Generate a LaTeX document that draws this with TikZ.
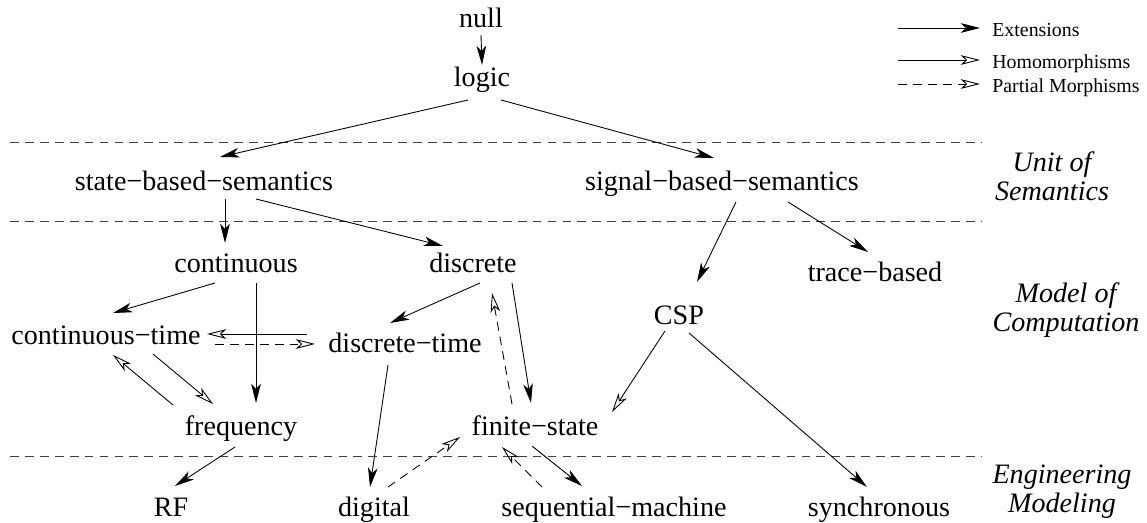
\documentclass[tikz,border=0pt]{standalone}
\usepackage{fontspec}
\setmainfont{Liberation Serif}
\usetikzlibrary{arrows.meta}

\begin{document}
\begin{tikzpicture}[x=0.02cm, y=-0.02cm, % one unit = one pixel, y runs down
	lbl/.style={font=\fontsize{16}{16.4}\selectfont, anchor=base, inner sep=0pt},
	side/.style={font=\fontsize{16}{16.4}\selectfont\itshape, align=center, inner sep=0pt},
	key/.style={font=\fontsize{11.3}{13}\selectfont, anchor=base west, inner sep=0pt},
	ext/.style={line width=0.5pt, -{Stealth[length=11pt, width=5.5pt, inset=3pt]}},
	hom/.style={line width=0.5pt, -{Stealth[open, length=11pt, width=5.5pt, inset=3pt]}},
	part/.style={hom, dash pattern=on 5pt off 3.5pt},
	sep/.style={line width=0.5pt, black!75, dash pattern=on 5pt off 3.5pt}]
	\useasboundingbox (0,0) rectangle (1147,523);

	% Layer separators
	\foreach \y in {142,221,456}
	\draw[sep] (10,\y) -- (982,\y);

	% Layer names
	\node[side] (unit) at (1052,176) {Unit of\\Semantics};
	\node[side] (moc) at (1066,310) {Model of\\Computation};
	\node[side] (eng) at (1062,492) {Engineering\\Modeling};

	% Legend
	\foreach \y/\sty/\txt/\nm in {28/ext/Extensions/kext, 60/hom/Homomorphisms/khom, 84/part/Partial Morphisms/kpart}
	{
		\node[key] (\nm) at (992,\y+9) {\txt};
		\draw[\sty] ([shift={(-94,-9)}]\nm.base west) -- ([shift={(-12,-9)}]\nm.base west);
	}

	% Nodes, placed on their baselines
	\node[lbl] (null) at (481,28) {null};
	\node[lbl] (logic) at (482,87) {logic};
	\node[lbl] (sbs) at (204,191) {state−based−semantics};
	\node[lbl] (sig) at (722,191) {signal−based−semantics};
	\node[lbl] (cont) at (236,273) {continuous};
	\node[lbl] (disc) at (473,273) {discrete};
	\node[lbl] (trace) at (875,282) {trace−based};
	\node[lbl] (ct) at (106,345) {continuous−time};
	\node[lbl] (dt) at (405,353) {discrete−time};
	\node[lbl] (csp) at (679,325) {CSP};
	\node[lbl] (freq) at (241,436) {frequency};
	\node[lbl] (fs) at (535,436) {finite−state};
	\node[lbl] (rf) at (171,517) {RF};
	\node[lbl] (dig) at (374,517) {digital};
	\node[lbl] (seq) at (614,517) {sequential−machine};
	\node[lbl] (sync) at (879,517) {synchronous};

	% Extensions
	\draw[ext] ([shift={(0,7)}]null.base) -- ([shift={(0,-22)}]logic.base);
	\draw[ext] ([shift={(-14,13)}]logic.base) -- ([shift={(16,-34)}]sbs.base);
	\draw[ext] ([shift={(19,13)}]logic.base) -- ([shift={(-8,-33)}]sig.base);
	\draw[ext] ([shift={(21,8)}]sbs.base) -- ([shift={(-11,-30)}]cont.base);
	\draw[ext] ([shift={(52,8)}]sbs.base) -- ([shift={(-30,-27)}]disc.base);
	\draw[ext] ([shift={(14,11)}]sig.base) -- ([shift={(18,-43)}]csp.base);
	\draw[ext] ([shift={(66,11)}]sig.base) -- ([shift={(-7,-30)}]trace.base);
	\draw[ext] ([shift={(-21,10)}]cont.base) -- ([shift={(7,-32)}]ct.base);
	\draw[ext] ([shift={(20,10)}]cont.base) -- ([shift={(15,-33)}]freq.base);
	\draw[ext] ([shift={(7,10)}]disc.base) -- ([shift={(-15,-30)}]dt.base);
	\draw[ext] ([shift={(39,10)}]disc.base) -- ([shift={(-4,-33)}]fs.base);
	\draw[ext] ([shift={(-17,12)}]dt.base) -- ([shift={(-4,-30)}]dig.base);
	\draw[ext] ([shift={(10,8)}]csp.base) -- ([shift={(-12,-30)}]sync.base);
	\draw[ext] ([shift={(-6,11)}]freq.base) -- ([shift={(4,-31)}]rf.base);
	\draw[ext] ([shift={(-3,10)}]fs.base) -- ([shift={(-32,-31)}]seq.base);

	% Homomorphisms
	\draw[hom] ([shift={(-98,-19)}]dt.base) -- ([shift={(101,-11)}]ct.base);
	\draw[hom] ([shift={(47,9)}]ct.base) -- ([shift={(-28,-32)}]freq.base);
	\draw[hom] ([shift={(-68,-31)}]freq.base) -- ([shift={(7,10)}]ct.base);
	\draw[hom] ([shift={(-14,6)}]csp.base) -- ([shift={(77,-24)}]fs.base);

	% Partial morphisms
	\draw[part] ([shift={(109,-1)}]ct.base) -- ([shift={(-90,-9)}]dt.base);
	\draw[part] ([shift={(-23,-32)}]fs.base) -- ([shift={(19,20)}]disc.base);
	\draw[part] ([shift={(14,-30)}]dig.base) -- ([shift={(-75,1)}]fs.base);
	\draw[part] ([shift={(-72,-30)}]seq.base) -- ([shift={(-33,11)}]fs.base);
\end{tikzpicture}
\end{document}
